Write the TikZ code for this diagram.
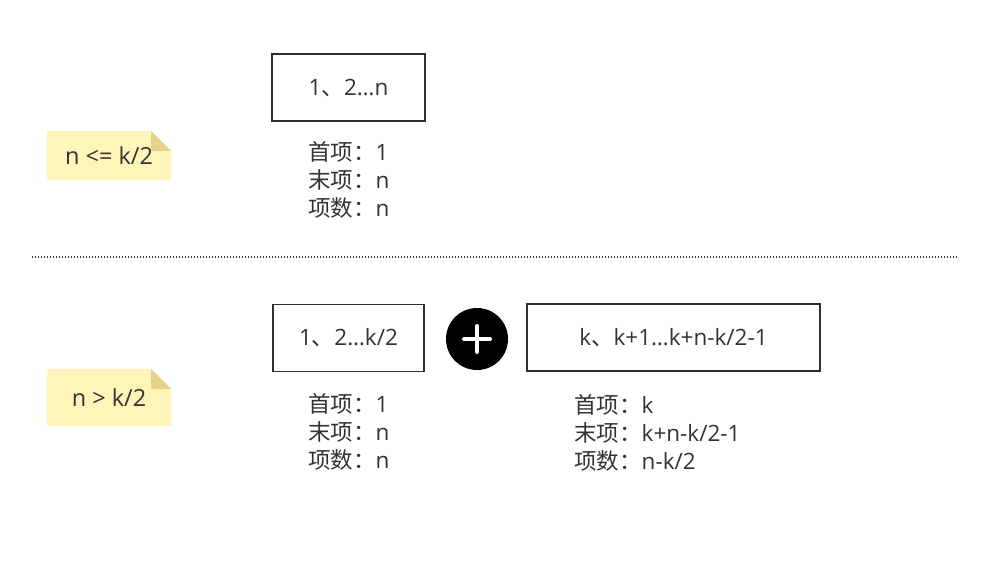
\documentclass[tikz,border=0pt]{standalone}
\usepackage{fontspec}
\setmainfont{Open Sans}
\newfontfamily\cjk{Noto Sans CJK SC}
\begin{document}
\begin{tikzpicture}[x=1pt,y=-1pt,
  txt/.style={text=textgray,font=\fontsize{22.5}{28}\selectfont},
  boxnode/.style={draw=boxgray,line width=1.4pt,minimum width=#1,minimum height=67pt,inner sep=0pt,txt},
  infonode/.style={txt,anchor=west,align=left,inner sep=0pt},
  notetext/.style={txt,font=\fontsize{23.5}{28}\selectfont}]
\definecolor{textgray}{HTML}{333333}
\definecolor{boxgray}{HTML}{2B2F33}
\definecolor{notefill}{HTML}{FFF5B8}
\definecolor{notefold}{HTML}{E6D28E}
\useasboundingbox (0,0) rectangle (988,580);
% note 1
\fill[notefill] (47,131) -- (151,131) -- (171,151) -- (171,180) -- (47,180) -- cycle;
\fill[notefold] (151,131) -- (171,151) -- (151,151) -- cycle;
\node[notetext] (note1) at (109,156) {n <= k/2};
% box 1
\node[boxnode=153pt] (b1) at (348.5,87.5) {1{\cjk 、}2…n};
\node[infonode] (i1) at (308,180) {{\cjk 首项：}1\\{\cjk 末项：}n\\{\cjk 项数：}n};
% dotted separator
\coordinate (sepL) at (32,257);
\coordinate (sepR) at (957,257);
\draw[textgray,line width=1pt,dash pattern=on 1pt off 2pt] (sepL) -- (sepR);
% note 2
\fill[notefill] (47,369) -- (151,369) -- (171,389) -- (171,426) -- (47,426) -- cycle;
\fill[notefold] (151,369) -- (171,389) -- (151,389) -- cycle;
\node[notetext] (note2) at (109,398) {n > k/2};
% box 2
\node[boxnode=151pt] (b2) at (348.5,338) {1{\cjk 、}2…k/2};
\node[infonode] (i2) at (308,432) {{\cjk 首项：}1\\{\cjk 末项：}n\\{\cjk 项数：}n};
% plus
\node[circle,fill=black,minimum size=62pt,inner sep=0pt] (plus) at (477,339) {};
\draw[white,line width=4pt,line cap=round] ([xshift=-13pt]plus.center) -- ([xshift=13pt]plus.center);
\draw[white,line width=4pt,line cap=round] ([yshift=-13pt]plus.center) -- ([yshift=13pt]plus.center);
% box 3
\node[boxnode=293pt] (b3) at (673.5,337.5) {k{\cjk 、}k+1…k+n-k/2-1};
\node[infonode] (i3) at (574,433) {{\cjk 首项：}k\\{\cjk 末项：}k+n-k/2-1\\{\cjk 项数：}n-k/2};
\end{tikzpicture}
\end{document}
